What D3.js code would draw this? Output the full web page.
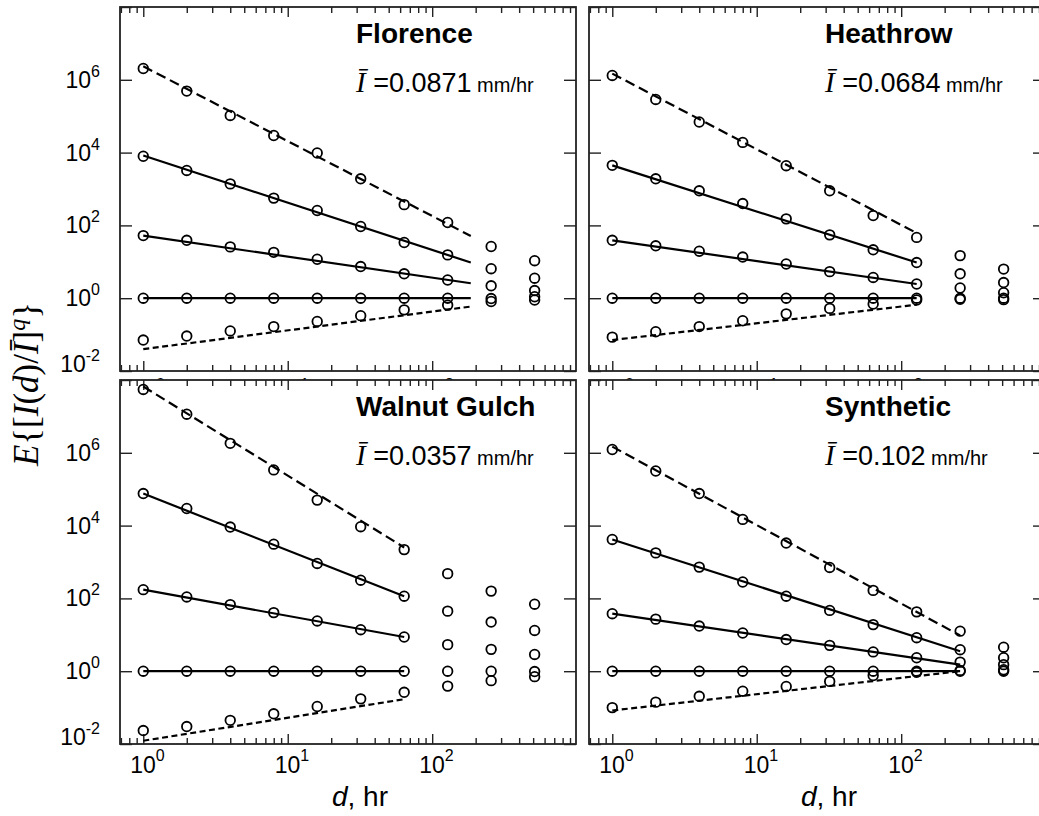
<!DOCTYPE html>
<html>
<head>
<meta charset="utf-8">
<script src="https://cdn.jsdelivr.net/npm/d3@7.9.0/dist/d3.min.js"></script>
<style>
  body { margin: 0; background: #fff; }
  svg text { font-family: "Liberation Sans", Arial, Helvetica, sans-serif; fill: #000; }
  svg .serif { font-family: "Liberation Serif", "Times New Roman", serif; }
</style>
</head>
<body>
<svg id="chart" width="1039" height="816"></svg>
<script>
// ---------- Data ----------
const dHours = [1, 2, 4, 8, 16, 32, 64, 128, 256, 512];
const panelNames = ["Florence", "Heathrow", "Walnut Gulch", "Synthetic"];
const meanIntensity = ["0.0871", "0.0684", "0.0357", "0.102"];

// log10 of E{[I(d)/Ī]^q}; rows = moments from top to bottom, columns = dHours
const florenceLog = [
  [6.31, 5.69, 5.02, 4.47, 3.99, 3.28, 2.57, 2.08, 1.42, 1.03],
  [3.90, 3.51, 3.14, 2.75, 2.41, 1.97, 1.53, 1.19, 0.81, 0.55],
  [1.72, 1.59, 1.41, 1.26, 1.07, 0.87, 0.67, 0.50, 0.34, 0.21],
  [0, 0, 0, 0, 0, 0, 0, 0, -0.01, 0.04],
  [-1.15, -1.04, -0.90, -0.78, -0.64, -0.48, -0.32, -0.19, -0.09, -0.05],
];
const heathrowLog = [
  [6.12, 5.46, 4.84, 4.28, 3.64, 2.95, 2.27, 1.67, 1.17, 0.80],
  [3.65, 3.28, 2.95, 2.60, 2.18, 1.74, 1.33, 0.98, 0.67, 0.43],
  [1.59, 1.44, 1.29, 1.13, 0.94, 0.73, 0.57, 0.39, 0.28, 0.15],
  [0, 0, 0, 0, 0, 0, 0, 0, 0, 0],
  [-1.07, -0.92, -0.78, -0.62, -0.43, -0.28, -0.16, -0.05, -0.03, -0.04],
];
const walnutLog = [
  [7.74, 7.06, 6.26, 5.53, 4.70, 3.97, 3.34, 2.68, 2.20, 1.84],
  [4.88, 4.47, 3.96, 3.49, 2.96, 2.50, 2.06, 1.65, 1.35, 1.12],
  [2.24, 2.04, 1.83, 1.61, 1.38, 1.14, 0.94, 0.73, 0.60, 0.46],
  [0, 0, 0, 0, 0, 0, 0, 0, 0, -0.01],
  [-1.63, -1.52, -1.35, -1.17, -0.97, -0.76, -0.58, -0.41, -0.26, -0.15],
];
const syntheticLog = [
  [6.09, 5.50, 4.88, 4.17, 3.52, 2.85, 2.22, 1.63, 1.10, 0.66],
  [3.62, 3.25, 2.86, 2.45, 2.06, 1.67, 1.28, 0.92, 0.59, 0.37],
  [1.58, 1.43, 1.24, 1.05, 0.87, 0.71, 0.53, 0.37, 0.25, 0.18],
  [0, 0, 0, 0, 0, 0, 0, 0, 0, 0.04],
  [-1.00, -0.85, -0.69, -0.55, -0.42, -0.28, -0.12, -0.03, 0.02, 0],
];

// fitted power laws: log10 value at d = 1 and at the end of the fit range
const florenceFit = [[6.37, 1.71], [3.92, 0.98], [1.72, 0.41], [0, 0], [-1.40, -0.23]];
const heathrowFit = [[6.17, 1.79], [3.65, 0.98], [1.59, 0.39], [0, 0], [-1.15, -0.18]];
const walnutFit = [[7.82, 3.40], [4.88, 2.06], [2.24, 0.94], [0, 0], [-1.91, -0.77]];
const syntheticFit = [[6.17, 0.98], [3.62, 0.55], [1.58, 0.18], [0, 0], [-1.08, 0]];
const fitEnd = [185, 128, 64, 256];

const yTickExp = [-2, 0, 2, 4, 6];
const xTickExp = [0, 1, 2];

// ---------- Layout ----------
const W = 456, H = 364;
const origins = [[120, 7], [589, 7], [120, 380], [589, 380]];
const panelLog = [florenceLog, heathrowLog, walnutLog, syntheticLog];
const panelFit = [florenceFit, heathrowFit, walnutFit, syntheticFit];

const x = d3.scaleLog().domain([0.69, 990]).range([0, W]);
const y = d3.scaleLog().domain([1e-2, 1e8]).range([H, 0]);

const svg = d3.select("#chart");
svg.append("rect").attr("width", 1039).attr("height", 816).attr("fill", "#fff");

function dashFor(i) {
  if (i === 0) return "10,5";
  if (i === 4) return "6,3.5";
  return null;
}

function drawPanel(p) {
  const [ox, oy] = origins[p];
  const g = svg.append("g").attr("transform", `translate(${ox},${oy})`);
  const bottomRow = p >= 2;

  g.append("rect")
    .attr("width", W).attr("height", H)
    .attr("fill", "#fff");

  // x ticks (inward, top and bottom)
  const allX = x.ticks().filter((t) => t > x.domain()[0] && t < x.domain()[1]);
  const isMajor = (t) => Math.abs(Math.log10(t) - Math.round(Math.log10(t))) < 1e-9;
  const majorX = allX.filter(isMajor);
  const minorX = allX.filter((t) => !isMajor(t));
  const strip = (sel) => sel.call((s) => s.select(".domain").remove());

  g.append("g").attr("transform", `translate(0,${H})`)
    .call(d3.axisBottom(x).tickValues(majorX).tickSize(-10).tickFormat("")).call(strip);
  g.append("g").attr("transform", `translate(0,${H})`)
    .call(d3.axisBottom(x).tickValues(minorX).tickSize(-6).tickFormat("")).call(strip);
  g.append("g")
    .call(d3.axisTop(x).tickValues(majorX).tickSize(-10).tickFormat("")).call(strip);
  g.append("g")
    .call(d3.axisTop(x).tickValues(minorX).tickSize(-6).tickFormat("")).call(strip);

  // y ticks (inward, left and right)
  const yVals = yTickExp.map((e) => Math.pow(10, e)).concat([1e8]);
  g.append("g")
    .call(d3.axisLeft(y).tickValues(yVals).tickSize(-12).tickFormat("")).call(strip);
  g.append("g").attr("transform", `translate(${W},0)`)
    .call(d3.axisRight(y).tickValues(yVals).tickSize(-12).tickFormat("")).call(strip);

  g.selectAll(".tick line").attr("stroke", "#222").attr("stroke-width", 1.4);

  // frame
  g.append("rect")
    .attr("width", W).attr("height", H)
    .attr("fill", "none").attr("stroke", "#222").attr("stroke-width", 1.8);

  // fitted lines
  const fits = panelFit[p];
  fits.forEach((f, i) => {
    g.append("line")
      .attr("x1", x(1)).attr("y1", y(Math.pow(10, f[0])))
      .attr("x2", x(fitEnd[p])).attr("y2", y(Math.pow(10, f[1])))
      .attr("stroke", "#000").attr("stroke-width", 2.2)
      .attr("stroke-dasharray", dashFor(i));
  });

  // data circles
  const pts = panelLog[p].flatMap((row) => row.map((v, j) => ({ d: dHours[j], v: Math.pow(10, v) })));
  g.append("g").selectAll("circle")
    .data(pts)
    .join("circle")
    .attr("cx", (d) => x(d.d))
    .attr("cy", (d) => y(d.v))
    .attr("r", 4.8)
    .attr("fill", "none")
    .attr("stroke", "#000")
    .attr("stroke-width", 1.8);

  // title and mean intensity
  g.append("text")
    .attr("x", 236).attr("y", 36)
    .attr("font-size", 28).attr("font-weight", "bold")
    .text(panelNames[p]);

  const t = g.append("text").attr("x", 236).attr("y", 85);
  t.append("tspan").attr("class", "serif").attr("font-style", "italic").attr("font-size", 29).text("Ī");
  t.append("tspan").attr("font-size", 27).text(" =" + meanIntensity[p]);
  t.append("tspan").attr("font-size", 20).text(" mm/hr");

  // x tick labels; the top row's labels sit under the bottom row, only the exponent tips show
  xTickExp.forEach((e) => {
    const px = x(Math.pow(10, e));
    if (bottomRow) {
      const lt = g.append("text")
        .attr("x", px - 13)
        .attr("y", H + 29)
        .attr("font-size", 23)
        .text("10");
      lt.append("tspan").attr("dy", -12).attr("font-size", 16).text(e);
    } else {
      g.append("text")
        .attr("x", px + 12.6)
        .attr("y", H + 18.5)
        .attr("font-size", 16)
        .text(e);
    }
  });

  // y tick labels (left column only)
  if (p % 2 === 0) {
    yTickExp.forEach((e) => {
      const lt = g.append("text")
        .attr("x", -20)
        .attr("y", y(Math.pow(10, e)) + (e === -2 ? 1 : 8))
        .attr("text-anchor", "end")
        .attr("font-size", 23)
        .text("10");
      lt.append("tspan").attr("dy", -11).attr("font-size", 16).text(e);
    });
  }

  // x axis title for bottom row
  if (bottomRow) {
    const xt = g.append("text")
      .attr("x", W / 2 + 12).attr("y", 426)
      .attr("text-anchor", "middle")
      .attr("font-size", 28);
    xt.append("tspan").attr("font-style", "italic").text("d");
    xt.append("tspan").text(", hr");
  }
}

// top row first so the bottom row covers its tick labels
[0, 1, 2, 3].forEach(drawPanel);

// y axis title
const yt = svg.append("text")
  .attr("class", "serif")
  .attr("transform", "translate(38,384) rotate(-90)")
  .attr("text-anchor", "middle")
  .attr("font-size", 35);
yt.append("tspan").attr("font-style", "italic").text("E");
yt.append("tspan").text("{[");
yt.append("tspan").attr("font-style", "italic").text("I");
yt.append("tspan").text("(");
yt.append("tspan").attr("font-style", "italic").text("d");
yt.append("tspan").text(")/");
yt.append("tspan").attr("font-style", "italic").text("Ī");
yt.append("tspan").text("]");
yt.append("tspan").attr("font-style", "italic").attr("font-size", 24).attr("dy", -13).text("q");
yt.append("tspan").attr("dy", 13).text("}");
</script>
</body>
</html>
